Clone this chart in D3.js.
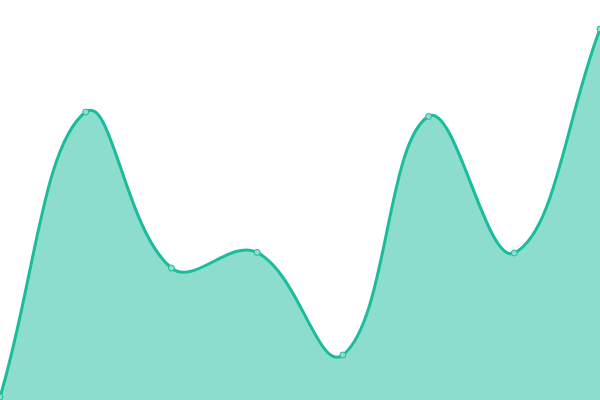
<!DOCTYPE html>
<html>
<head>
<meta charset="utf-8">
<script src="https://cdn.jsdelivr.net/npm/d3@7"></script>
<style>
  html, body { margin: 0; padding: 0; background: #fff; overflow: hidden; }
</style>
</head>
<body>
<div id="chart"></div>
<script>
'use strict';

var WIDTH = 600;
var HEIGHT = 400;
var COLOR = '#1abc9c';
var TENSION = 0.4;

// data
var labels = ['1', '2', '3', '4', '5', '6', '7', '8'];
var values = [0.75, 72, 33, 36.9, 11.25, 70.9, 36.75, 92.75];

var svg = d3.select('#chart')
    .append('svg')
    .attr('width', WIDTH)
    .attr('height', HEIGHT);

var x = d3.scalePoint()
    .domain(labels)
    .range([0, WIDTH]);

var y = d3.scaleLinear()
    .domain([0, 100])
    .range([HEIGHT, 0]);

var data = labels.map(function(l, i) {
    return { label: l, value: values[i] };
});

// distance weighted spline (control points along prev->next, scaled by tension)
function SplineCurve(context) {
    this._context = context;
}
SplineCurve.prototype = {
    areaStart: function() { this._line = 0; },
    areaEnd: function() { this._line = NaN; },
    lineStart: function() { this._pts = []; },
    point: function(px, py) { this._pts.push([+px, +py]); },
    lineEnd: function() {
        var p = this._pts, n = p.length, ctx = this._context;
        if (n) {
            if (this._line) ctx.lineTo(p[0][0], p[0][1]);
            else ctx.moveTo(p[0][0], p[0][1]);
            var cpPrev = [], cpNext = [];
            for (var i = 0; i < n; i++) {
                var prev = p[Math.max(i - 1, 0)], cur = p[i], next = p[Math.min(i + 1, n - 1)];
                var d01 = Math.hypot(cur[0] - prev[0], cur[1] - prev[1]);
                var d12 = Math.hypot(next[0] - cur[0], next[1] - cur[1]);
                var s01 = d01 / (d01 + d12) || 0;
                var s12 = d12 / (d01 + d12) || 0;
                var fa = TENSION * s01, fb = TENSION * s12;
                var dx = next[0] - prev[0], dy = next[1] - prev[1];
                cpPrev.push([clamp(cur[0] - fa * dx, 0, WIDTH), clamp(cur[1] - fa * dy, 0, HEIGHT)]);
                cpNext.push([clamp(cur[0] + fb * dx, 0, WIDTH), clamp(cur[1] + fb * dy, 0, HEIGHT)]);
            }
            for (var j = 1; j < n; j++) {
                ctx.bezierCurveTo(cpNext[j - 1][0], cpNext[j - 1][1], cpPrev[j][0], cpPrev[j][1], p[j][0], p[j][1]);
            }
        }
        if (this._line || (this._line !== 0 && n === 1)) ctx.closePath();
        this._line = 1 - this._line;
    }
};
function clamp(v, a, b) { return Math.max(a, Math.min(b, v)); }
function splineCurve(context) { return new SplineCurve(context); }

var area = d3.area()
    .x(function(d) { return x(d.label); })
    .y0(HEIGHT)
    .y1(function(d) { return y(d.value); })
    .curve(splineCurve);

var line = d3.line()
    .x(function(d) { return x(d.label); })
    .y(function(d) { return y(d.value); })
    .curve(splineCurve);

svg.append('path')
    .datum(data)
    .attr('d', area)
    .attr('fill', COLOR)
    .attr('fill-opacity', 0.5);

svg.append('path')
    .datum(data)
    .attr('d', line)
    .attr('fill', 'none')
    .attr('stroke', COLOR)
    .attr('stroke-width', 3);

// points
svg.selectAll('circle')
    .data(data)
    .enter().append('circle')
    .attr('cx', function(d) { return x(d.label); })
    .attr('cy', function(d) { return y(d.value); })
    .attr('r', 3)
    .attr('fill', '#8ddecd')
    .attr('stroke', COLOR)
    .attr('stroke-width', 1);
</script>
</body>
</html>
